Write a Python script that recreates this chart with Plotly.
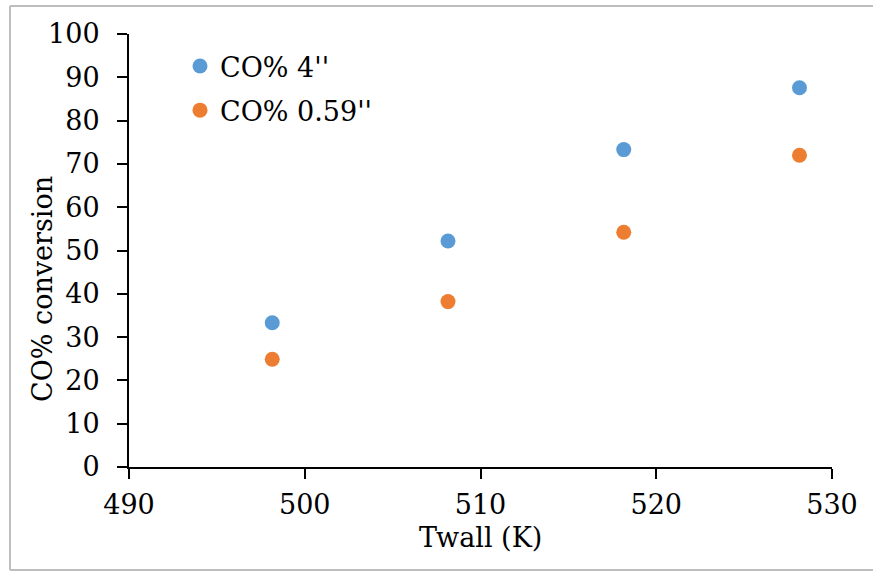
import plotly.graph_objects as go

# Wall temperature (K) and CO conversion (%) for two tube diameters
twall = [498.15, 508.15, 518.15, 528.15]
co_4in = [33.3, 52.2, 73.3, 87.6]
co_059in = [24.9, 38.2, 54.2, 72.0]

series_names = ["CO% 4''", "CO% 0.59''"]
series_colors = ["#5B9BD5", "#ED7D31"]

x_ticks = [490, 500, 510, 520, 530]
y_ticks = [0, 10, 20, 30, 40, 50, 60, 70, 80, 90, 100]

FONT = "DejaVu Serif"
W, H = 873, 571
ML, MR, MT, MB = 129, 41, 34, 104
PW, PH = W - ML - MR, H - MT - MB

fig = go.Figure()
for i, (name, ys, col) in enumerate(zip(series_names, [co_4in, co_059in], series_colors)):
    fig.add_trace(go.Scatter(
        x=twall, y=ys, mode="markers", name=name, legendgroup=f"g{i}",
        marker=dict(size=15, color=col, line=dict(width=0)),
    ))


def px_x(p):
    return (p - ML) / PW


def px_y(p):
    return (H - MB - p) / PH


# light grey frame (top, left, bottom edges) around the chart area
frame = dict(color="#BEBEBE", width=2)
fig.add_shape(type="line", xref="paper", yref="paper",
              x0=px_x(10), x1=px_x(900), y0=px_y(6), y1=px_y(6), line=frame)
fig.add_shape(type="line", xref="paper", yref="paper",
              x0=px_x(10), x1=px_x(10), y0=px_y(6), y1=px_y(570), line=frame)
fig.add_shape(type="line", xref="paper", yref="paper",
              x0=px_x(10), x1=px_x(900), y0=px_y(570), y1=px_y(570), line=frame)

title_font = dict(family=FONT, size=27, color="black")

# axis titles
fig.add_annotation(text="CO% conversion", textangle=-90, showarrow=False,
                   xref="paper", yref="paper", x=px_x(42), y=px_y(289),
                   xanchor="center", yanchor="middle", font=title_font)
fig.add_annotation(text="Twall (K)", showarrow=False,
                   xref="paper", yref="paper", x=px_x(480), y=px_y(537),
                   xanchor="center", yanchor="middle", font=title_font)

axis_common = dict(
    showgrid=False, zeroline=False, showline=True, linecolor="black", linewidth=2,
    ticks="outside", ticklen=10, tickwidth=2, tickcolor="black",
    tickfont=dict(family=FONT, size=27, color="black"),
)

fig.update_layout(
    width=W, height=H,
    margin=dict(l=ML, r=MR, t=MT, b=MB),
    paper_bgcolor="white", plot_bgcolor="white",
    xaxis=dict(range=[490, 530], tickvals=x_ticks, ticktext=[str(v) for v in x_ticks],
               ticklabelstandoff=3, **axis_common),
    yaxis=dict(range=[0, 100], tickvals=y_ticks, ticktext=[str(v) for v in y_ticks],
               ticklabelstandoff=12, **axis_common),
    legend=dict(x=px_x(180), y=px_y(42), xanchor="left", yanchor="top",
                font=dict(family=FONT, size=27, color="black"),
                bgcolor="rgba(0,0,0,0)", tracegroupgap=6, itemwidth=30),
    showlegend=True,
)

fig.write_html("out.html")
